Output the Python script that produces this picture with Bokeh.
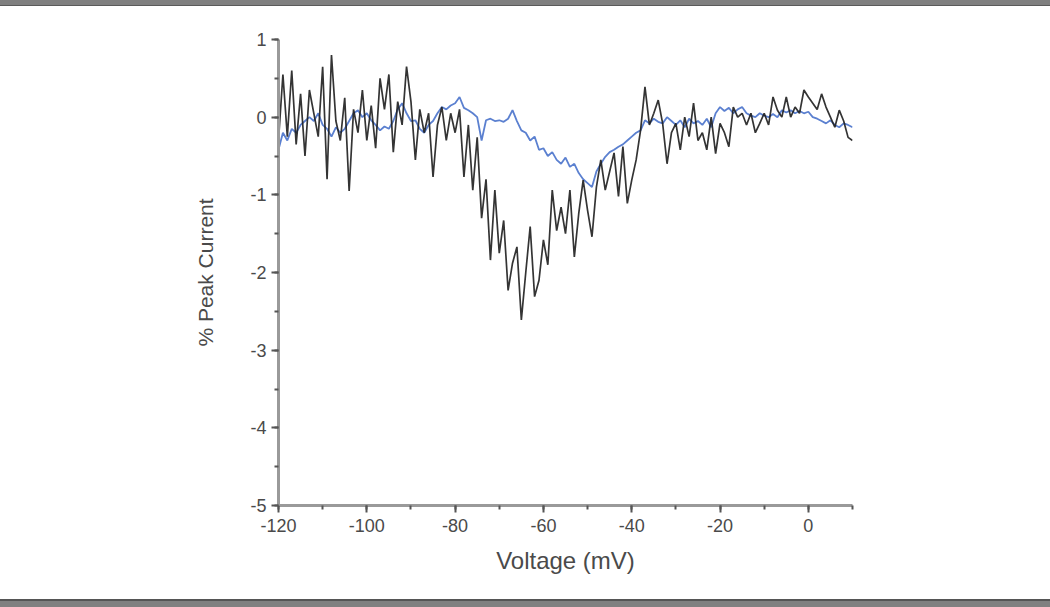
from bokeh.plotting import figure
from bokeh.models import Range1d, FixedTicker, Div
from bokeh.layouts import column
from bokeh.embed import file_html
from bokeh.resources import INLINE

voltage = list(range(-120, 11))

black_trace = [
    -0.3, 0.55, -0.25, 0.6, -0.35, 0.3, -0.5, 0.35, 0.05, -0.25,
    0.65, -0.8, 0.8, -0.05, -0.3, 0.25, -0.95, 0.1, -0.2, 0.35,
    -0.3, 0.15, -0.4, 0.5, 0.1, 0.55, -0.45, 0.2, -0.1, 0.65,
    0.2, -0.55, 0.1, -0.2, 0.05, -0.77, -0.1, 0.13, -0.3, 0.05,
    -0.2, 0.1, -0.77, -0.1, -0.94, -0.26, -1.3, -0.8, -1.84, -0.94,
    -1.75, -1.33, -2.23, -1.88, -1.67, -2.61, -2.0, -1.41, -2.31, -2.1,
    -1.58, -1.9, -0.94, -1.46, -1.16, -1.5, -0.94, -1.8, -1.24, -0.81,
    -1.2, -1.54, -0.9, -0.55, -0.94, -0.7, -0.46, -1.02, -0.38, -1.11,
    -0.81, -0.55, -0.17, 0.39, -0.1, 0.05, 0.22, -0.08, -0.6, -0.2,
    -0.08, -0.42, 0.0, -0.25, 0.18, -0.3, -0.2, -0.42, 0.0, -0.47,
    -0.08, -0.2, -0.38, 0.13, 0.0, 0.05, -0.1, 0.05, -0.2, -0.08,
    0.05, -0.1, 0.26, 0.09, 0.0, 0.26, 0.0, 0.13, 0.05, 0.35,
    0.26, 0.18, 0.1, 0.3, 0.13, 0.0, -0.13, 0.09, -0.05, -0.26,
    -0.3,
]

blue_trace = [
    -0.42, -0.2, -0.3, -0.15, -0.2, -0.1, -0.05, 0.0, -0.05, 0.05,
    -0.1, -0.15, -0.25, -0.13, -0.2, -0.15, -0.05, 0.05, 0.09, 0.0,
    0.05, -0.04, -0.1, -0.17, -0.12, -0.15, -0.05, 0.1, 0.18, 0.05,
    -0.05, -0.04, -0.15, -0.2, -0.1, -0.05, 0.05, 0.13, 0.1, 0.15,
    0.18, 0.26, 0.12, 0.09, 0.05, 0.0, -0.3, -0.04, -0.02, -0.05,
    -0.04, -0.06, -0.02, 0.09, -0.05, -0.17, -0.2, -0.3, -0.25, -0.42,
    -0.4, -0.5, -0.45, -0.55, -0.6, -0.52, -0.64, -0.6, -0.72, -0.8,
    -0.85, -0.9, -0.7, -0.6, -0.51, -0.45, -0.42, -0.38, -0.35, -0.3,
    -0.25, -0.2, -0.17, -0.04, -0.08, -0.02, -0.06, -0.08, 0.0, -0.05,
    -0.1, -0.04, -0.13, -0.02, -0.08, -0.05, -0.1, -0.02, -0.13, 0.05,
    0.13, 0.08, 0.12, 0.05, 0.1, 0.13, 0.05, 0.02, 0.0, 0.05,
    0.02, 0.0, 0.04, 0.0, 0.09, 0.06, 0.09, 0.05, 0.08, 0.05,
    0.07, 0.0, -0.02, -0.05, -0.08, -0.04, -0.1, -0.13, -0.08, -0.1,
    -0.13,
]

x_ticks = [-120, -100, -80, -60, -40, -20, 0]
y_ticks = [-5, -4, -3, -2, -1, 0, 1]

FONT = "Liberation Sans"

p = figure(width=1050, height=593, output_backend="svg", toolbar_location=None,
           x_range=Range1d(-120, 10), y_range=Range1d(-5, 1),
           min_border_left=278, min_border_right=198,
           min_border_top=33, min_border_bottom=94)
p.outline_line_color = None
p.xgrid.visible = False
p.ygrid.visible = False
p.background_fill_color = "white"
p.border_fill_color = "white"

p.line(voltage, blue_trace, line_color="#5b80d0", line_width=1.8)
p.line(voltage, black_trace, line_color="#1e1e1e", line_width=1.7, line_alpha=0.9)

for ax in (p.xaxis[0], p.yaxis[0]):
    ax.axis_line_color = "#9a9a9a"
    ax.axis_line_width = 3
    ax.major_tick_line_color = "#555555"
    ax.major_tick_line_width = 2
    ax.minor_tick_line_color = "#555555"
    ax.minor_tick_line_width = 2
    ax.major_tick_out = 7
    ax.major_tick_in = 0
    ax.minor_tick_out = 4
    ax.minor_tick_in = 0
    ax.major_label_text_font = FONT
    ax.major_label_text_font_size = "18px"
    ax.major_label_text_color = "#4a4a4a"
    ax.axis_label_text_font = FONT
    ax.axis_label_text_font_style = "normal"
    ax.axis_label_text_color = "#4a4a4a"

p.xaxis[0].ticker = FixedTicker(ticks=x_ticks, minor_ticks=list(range(-120, 11, 10)))
p.yaxis[0].ticker = FixedTicker(ticks=y_ticks, minor_ticks=[v / 2 for v in range(-10, 3)])
p.xaxis[0].major_label_overrides = {t: str(t) for t in x_ticks}
p.yaxis[0].major_label_overrides = {t: str(t) for t in y_ticks}
p.xaxis[0].axis_label = "Voltage (mV)"
p.xaxis[0].axis_label_text_font_size = "24px"
p.xaxis[0].axis_label_standoff = 12
p.xaxis[0].major_label_standoff = 6
p.yaxis[0].axis_label = "% Peak Current"
p.yaxis[0].axis_label_text_font_size = "21px"
p.yaxis[0].axis_label_standoff = 30
p.yaxis[0].major_label_standoff = 5

top_bar = Div(text="", width=1050, height=6, margin=0,
              styles={"background-color": "#7f7f7f", "border-bottom": "1px solid #5a5a5a",
                      "box-sizing": "border-box"})
bottom_bar = Div(text="", width=1050, height=8, margin=0,
                 styles={"background-color": "#808080", "border-top": "2px solid #555555",
                         "box-sizing": "border-box"})

layout = column(top_bar, p, bottom_bar, spacing=0)

open("out.html", "w").write(file_html(layout, INLINE))
